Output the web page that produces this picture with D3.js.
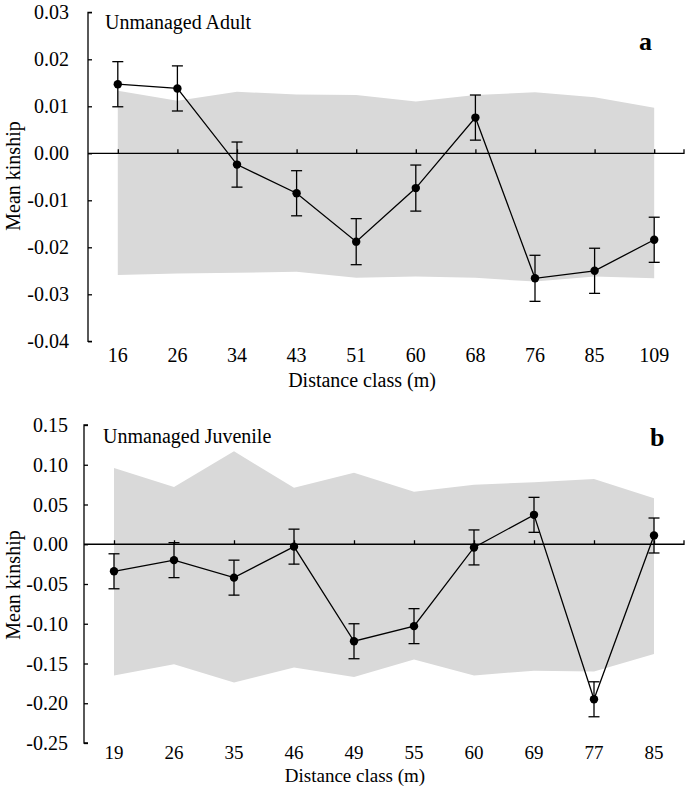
<!DOCTYPE html>
<html>
<head>
<meta charset="utf-8">
<script src="https://cdn.jsdelivr.net/npm/d3@7"></script>
<style>
  body { margin: 0; background: #fff; }
  svg { display: block; }
  svg text { font-family: "Liberation Serif", "Times New Roman", serif !important; fill: #000; }
</style>
</head>
<body>
<svg id="chart" width="685" height="788"></svg>
<script>
// ---- Panel a: Unmanaged Adult ----
const adultClasses = ["16", "26", "34", "43", "51", "60", "68", "76", "85", "109"];
const adultMean = [0.0147, 0.0138, -0.0024, -0.0085, -0.0188, -0.0074, 0.0076, -0.0266, -0.0250, -0.0184];
const adultErr = [0.0048, 0.0048, 0.0048, 0.0048, 0.0049, 0.0049, 0.0048, 0.0049, 0.0048, 0.0048];
const adultUpper = [0.0133, 0.0112, 0.0131, 0.0125, 0.0124, 0.0110, 0.0124, 0.0130, 0.0119, 0.0097];
const adultLower = [-0.0259, -0.0256, -0.0254, -0.0252, -0.0265, -0.0262, -0.0265, -0.0273, -0.0262, -0.0266];
const adultTicks = [0.03, 0.02, 0.01, 0.00, -0.01, -0.02, -0.03, -0.04];

// ---- Panel b: Unmanaged Juvenile ----
const juvClasses = ["19", "26", "35", "46", "49", "55", "60", "69", "77", "85"];
const juvMean = [-0.034, -0.020, -0.042, -0.003, -0.122, -0.103, -0.004, 0.037, -0.195, 0.011];
const juvErr = [0.022, 0.022, 0.022, 0.022, 0.022, 0.022, 0.022, 0.022, 0.022, 0.022];
const juvUpper = [0.096, 0.072, 0.117, 0.071, 0.090, 0.066, 0.075, 0.078, 0.082, 0.058];
const juvLower = [-0.165, -0.151, -0.174, -0.155, -0.167, -0.145, -0.165, -0.159, -0.160, -0.138];
const juvTicks = [0.15, 0.10, 0.05, 0.00, -0.05, -0.10, -0.15, -0.20, -0.25];

const svg = d3.select("#chart");
const fmt2 = v => (v < 0 ? "-" : "") + Math.abs(v).toFixed(2);
const FS = "20px";

function panel(cfg) {
  const g = svg.append("g");
  const x = d3.scalePoint().domain(cfg.classes).range([cfg.left, 684]).padding(0.5);
  const y = d3.scaleLinear().domain([cfg.ymin, cfg.ymax]).range([cfg.bottom, cfg.top]);
  const rows = cfg.classes.map((c, i) => ({ c, m: cfg.mean[i], e: cfg.err[i], u: cfg.upper[i], l: cfg.lower[i] }));

  // envelope
  const area = d3.area().x(d => x(d.c)).y0(d => y(d.l)).y1(d => y(d.u));
  g.append("path").datum(rows).attr("d", area).attr("fill", "#d9d9d9");

  // y axis
  const yAxis = d3.axisRight(y).tickValues(cfg.ticks).tickSize(4).tickFormat(fmt2);
  const ya = g.append("g").attr("transform", `translate(${cfg.left},0)`).call(yAxis);
  ya.attr("font-family", null);
  ya.select(".domain").attr("d", `M4,${cfg.top}H0V${cfg.bottom}H4`).attr("stroke", "#000").attr("stroke-width", 1.3);
  ya.selectAll(".tick line").attr("stroke", "#000").attr("stroke-width", 1.3);
  ya.selectAll(".tick text").attr("x", -(cfg.left - cfg.labelRight)).attr("text-anchor", "end")
    .attr("dy", "0.33em").style("font-size", FS);

  // x axis at zero
  const xAxis = d3.axisTop(x).tickSize(4).tickFormat("");
  const xa = g.append("g").attr("transform", `translate(0,${y(0)})`).call(xAxis);
  xa.select(".domain").attr("d", `M${cfg.left},0H684V-4`).attr("stroke", "#000").attr("stroke-width", 1.3);
  xa.selectAll(".tick line").attr("stroke", "#000").attr("stroke-width", 1.3);

  // x tick labels at bottom
  g.selectAll(".xl").data(cfg.classes).enter().append("text")
    .attr("x", d => x(d)).attr("y", cfg.xLabelY).attr("text-anchor", "middle")
    .style("font-size", cfg.xfs).text(d => d);

  // error bars
  const eb = g.selectAll(".eb").data(rows).enter().append("g");
  eb.append("line").attr("x1", d => x(d.c)).attr("x2", d => x(d.c))
    .attr("y1", d => y(d.m + d.e)).attr("y2", d => y(d.m - d.e)).attr("stroke", "#000").attr("stroke-width", 1.3);
  [1, -1].forEach(s => {
    eb.append("line").attr("x1", d => x(d.c) - 5.5).attr("x2", d => x(d.c) + 5.5)
      .attr("y1", d => y(d.m + s * d.e)).attr("y2", d => y(d.m + s * d.e)).attr("stroke", "#000").attr("stroke-width", 1.3);
  });

  // line + points
  const line = d3.line().x(d => x(d.c)).y(d => y(d.m));
  g.append("path").datum(rows).attr("d", line).attr("fill", "none").attr("stroke", "#000").attr("stroke-width", 1.3);
  g.selectAll(".pt").data(rows).enter().append("circle")
    .attr("cx", d => x(d.c)).attr("cy", d => y(d.m)).attr("r", 4.2).attr("fill", "#000");

  // titles
  g.append("text").attr("x", cfg.titleX).attr("y", cfg.titleY).style("font-size", FS).text(cfg.title);
  g.append("text").attr("x", cfg.letterX).attr("y", cfg.letterY).style("font-size", "26px").style("font-weight", "bold").text(cfg.letter);
  g.append("text").attr("x", cfg.xTitleX).attr("y", cfg.xTitleY).attr("text-anchor", "middle").style("font-size", cfg.xfs).text("Distance class (m)");
  g.append("text").attr("transform", `translate(${cfg.yTitleX},${cfg.yTitleY}) rotate(-90)`).attr("text-anchor", "middle")
    .style("font-size", FS).text("Mean kinship");
}

panel({
  classes: adultClasses, mean: adultMean, err: adultErr, upper: adultUpper, lower: adultLower,
  ticks: adultTicks, ymin: -0.04, ymax: 0.03, top: 12.3, bottom: 341.3, left: 88, labelRight: 69,
  xLabelY: 362, xTitleX: 362, xTitleY: 387, yTitleX: 20, yTitleY: 176, xfs: "20px",
  title: "Unmanaged Adult", titleX: 105, titleY: 29, letter: "a", letterX: 639, letterY: 50
});

panel({
  classes: juvClasses, mean: juvMean, err: juvErr, upper: juvUpper, lower: juvLower,
  ticks: juvTicks, ymin: -0.25, ymax: 0.15, top: 425, bottom: 743, left: 84, labelRight: 68,
  xLabelY: 759, xTitleX: 355, xTitleY: 782, yTitleX: 20, yTitleY: 585, xfs: "19px",
  title: "Unmanaged Juvenile", titleX: 103, titleY: 443, letter: "b", letterX: 650, letterY: 446
});
</script>
</body>
</html>
